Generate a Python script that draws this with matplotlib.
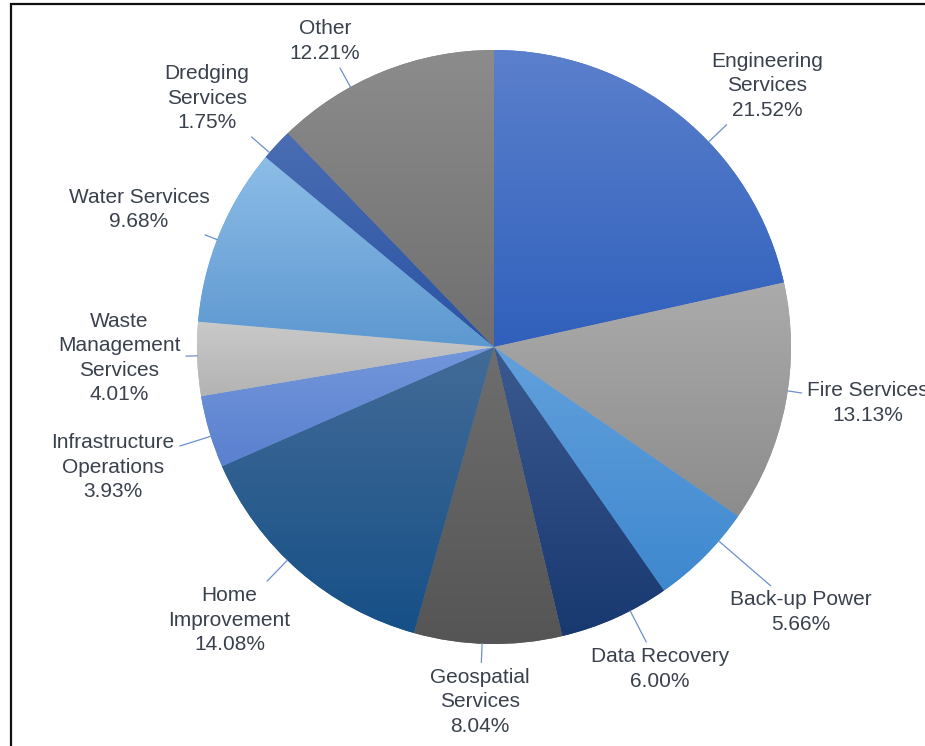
import numpy as np
import matplotlib.pyplot as plt
from matplotlib.colors import to_rgb
from matplotlib.patches import Rectangle

# slice data, clockwise from 12 o'clock
categories = ["Engineering\nServices", "Fire Services", "Back-up Power", "Data Recovery",
              "Geospatial\nServices", "Home\nImprovement", "Infrastructure\nOperations",
              "Waste\nManagement\nServices", "Water Services", "Dredging\nServices", "Other"]
shares = [21.52, 13.13, 5.66, 6.00, 8.04, 14.08, 3.93, 4.01, 9.68, 1.75, 12.21]

# vertical gradient per slice (top -> bottom)
top_colors = ["#5b80cc", "#ababab", "#62a0dc", "#3b5a90", "#6e6e6e", "#436b97",
              "#7397db", "#c9c9c9", "#8dbde8", "#4a6db3", "#8c8c8c"]
bottom_colors = ["#3060bc", "#8c8c8c", "#3e88cf", "#183870", "#555555", "#165087",
                 "#5a80cf", "#b3b3b3", "#5d98d0", "#2a53a3", "#6f6f6f"]

# label placement (angle in degrees, distance in pie radii)
label_angle = [43.7, -8.5, -40.8, -62.7, -92.3, -134.1, -162.5, -178.3, 158.8, 139.1, 118.9]
label_radius = [1.272, 1.273, 1.366, 1.22, 1.196, 1.28, 1.345, 1.263, 1.282, 1.279, 1.177]

fig = plt.figure(figsize=(9.25, 7.46), dpi=100)
fig.patch.set_facecolor("white")
ax = fig.add_axes([197 / 925, 102 / 746, 594 / 925, 594 / 746])

wedges, _ = ax.pie(shares, startangle=90, counterclock=False, radius=1,
                   wedgeprops=dict(linewidth=0))

grad = np.linspace(0, 1, 256)[:, None, None]
for w, c1, c2 in zip(wedges, top_colors, bottom_colors):
    ext = w.get_path().get_extents()
    img = np.array(to_rgb(c1)) * (1 - grad) + np.array(to_rgb(c2)) * grad
    w.set_facecolor(tuple((np.array(to_rgb(c1)) + np.array(to_rgb(c2))) / 2))
    im = ax.imshow(img, extent=[ext.x0, ext.x1, ext.y0, ext.y1], origin="upper",
                   interpolation="bilinear", zorder=2)
    im.set_clip_path(w)

ax.set_xlim(-1, 1)
ax.set_ylim(-1, 1)
ax.set_aspect("equal")
ax.axis("off")

for name, share, a, rr in zip(categories, shares, label_angle, label_radius):
    t = np.radians(a)
    ax.annotate(f"{name}\n{share:.2f}%", xy=(np.cos(t), np.sin(t)),
                xytext=(rr * np.cos(t), rr * np.sin(t)),
                ha="center", va="center", fontsize=15, color="#3a414d",
                family="Liberation Sans", linespacing=1.37, annotation_clip=False,
                arrowprops=dict(arrowstyle="-", color="#6d8fd0", lw=0.9,
                                shrinkA=2, shrinkB=0))

# frame around the picture (right and bottom edges fall outside)
fig.patches.append(Rectangle((11 / 925, -0.1), 2, 1.1 - 4 / 746, transform=fig.transFigure,
                             fill=False, lw=1.6, ec="#111111"))

fig.savefig("out.png", dpi=100)
